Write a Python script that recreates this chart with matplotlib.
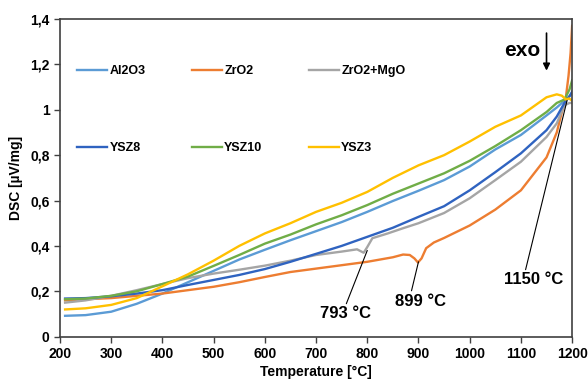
import matplotlib
matplotlib.use("Agg")
import matplotlib.pyplot as plt
from matplotlib.ticker import MultipleLocator, FuncFormatter

plt.rcParams["font.family"] = ["Liberation Sans", "DejaVu Sans"]
plt.rcParams["font.weight"] = "bold"

# temperatures [°C] and DSC signal [µV/mg]
t_base = [210, 250, 300, 350, 400, 450, 500, 550, 600, 650, 700, 750, 800,
          850, 900, 950, 1000, 1050, 1100, 1150, 1170, 1185, 1195, 1200]
al2o3 = [0.092, 0.095, 0.11, 0.145, 0.19, 0.24, 0.29, 0.34, 0.383, 0.425, 0.465, 0.505, 0.55,
         0.598, 0.643, 0.69, 0.75, 0.825, 0.889, 0.975, 1.01, 1.04, 1.06, 1.07]
ysz8 = [0.168, 0.17, 0.178, 0.19, 0.205, 0.228, 0.25, 0.272, 0.298, 0.33, 0.365, 0.40, 0.44,
        0.48, 0.528, 0.575, 0.645, 0.725, 0.808, 0.91, 0.97, 1.03, 1.06, 1.08]
ysz10 = [0.165, 0.168, 0.18, 0.20, 0.232, 0.265, 0.312, 0.36, 0.41, 0.45, 0.495, 0.535, 0.58,
         0.63, 0.675, 0.72, 0.775, 0.84, 0.91, 0.99, 1.03, 1.045, 1.09, 1.13]

t_ysz3 = [210, 250, 300, 350, 400, 450, 500, 550, 600, 650, 700, 750, 800, 850, 900,
          950, 1000, 1050, 1100, 1150, 1170, 1180, 1188, 1194, 1200]
ysz3 = [0.12, 0.125, 0.14, 0.17, 0.222, 0.275, 0.335, 0.40, 0.455, 0.50, 0.55, 0.59, 0.638, 0.70, 0.755,
        0.80, 0.86, 0.925, 0.975, 1.055, 1.068, 1.062, 1.045, 1.05, 1.04]

t_mgo = [210, 250, 300, 350, 400, 450, 500, 550, 600, 650, 700, 750, 780, 793, 800, 810,
         840, 870, 900, 950, 1000, 1050, 1100, 1150, 1170, 1185, 1195, 1200]
zro2_mgo = [0.15, 0.16, 0.18, 0.205, 0.232, 0.258, 0.278, 0.295, 0.313, 0.335, 0.36, 0.375, 0.385, 0.37, 0.395, 0.434,
            0.455, 0.478, 0.50, 0.545, 0.61, 0.69, 0.771, 0.88, 0.94, 1.02, 1.03, 1.03]

t_zro2 = [210, 250, 300, 350, 400, 450, 500, 550, 600, 650, 700, 750, 800, 850, 870, 883,
          892, 899, 906, 915, 930, 950, 1000, 1050, 1100, 1150, 1170, 1180, 1187, 1193, 1197, 1200]
zro2 = [0.16, 0.165, 0.17, 0.18, 0.19, 0.205, 0.22, 0.24, 0.263, 0.285, 0.30, 0.315, 0.33, 0.35, 0.362, 0.36,
        0.345, 0.327, 0.345, 0.39, 0.415, 0.435, 0.49, 0.56, 0.645, 0.79, 0.9, 0.99, 1.04, 1.15, 1.25, 1.37]

series = {
    "Al2O3": (t_base, al2o3, "#5B9BD5"),
    "ZrO2": (t_zro2, zro2, "#ED7D31"),
    "ZrO2+MgO": (t_mgo, zro2_mgo, "#A5A5A5"),
    "YSZ8": (t_base, ysz8, "#2F63C0"),
    "YSZ10": (t_base, ysz10, "#70AD47"),
    "YSZ3": (t_ysz3, ysz3, "#FFC000"),
}
# legend is filled column by column, so this gives rows Al2O3/ZrO2/ZrO2+MgO and YSZ8/YSZ10/YSZ3
legend_order = ["Al2O3", "YSZ8", "ZrO2", "YSZ10", "ZrO2+MgO", "YSZ3"]

fig = plt.figure(figsize=(5.88, 3.8), dpi=100)
ax = fig.add_axes([0.102, 0.114, 0.871, 0.836])

lines = {}
for name, (t, v, c) in series.items():
    lines[name], = ax.plot(t, v, color=c, lw=1.7, label=name)

ax.set_xlim(200, 1200)
ax.set_ylim(0, 1.4)
ax.xaxis.set_major_locator(MultipleLocator(100))
ax.yaxis.set_major_locator(MultipleLocator(0.2))
ax.yaxis.set_major_formatter(FuncFormatter(lambda v, _: f"{v:g}".replace(".", ",")))
ax.tick_params(direction="out", length=4, width=1, colors="#404040", labelcolor="black", labelsize=10)
for s in ax.spines.values():
    s.set_color("#404040")
    s.set_linewidth(1.2)

ax.set_xlabel("Temperature [°C]", fontsize=10, fontweight="bold", labelpad=3)
ax.set_ylabel("DSC [µV/mg]", fontsize=10, fontweight="bold", labelpad=5)

ax.legend([lines[n] for n in legend_order], legend_order,
          loc="upper left", bbox_to_anchor=(0.033, 0.855), ncol=3, frameon=False,
          fontsize=9, handlelength=2.4, handletextpad=0.2, columnspacing=3.7,
          labelspacing=5.2, borderpad=0, borderaxespad=0)

line = dict(arrowstyle="-", color="black", lw=0.8, shrinkA=0, shrinkB=0)
ax.annotate("793 °C", xy=(800, 0.38), xytext=(757, 0.10), fontsize=12, fontweight="bold",
            ha="center", va="center", arrowprops=dict(line, relpos=(0.5, 1)))
ax.annotate("899 °C", xy=(900, 0.33), xytext=(903, 0.157), fontsize=12, fontweight="bold",
            ha="center", va="center", arrowprops=dict(line, relpos=(0.32, 1)))
ax.annotate("1150 °C", xy=(1190, 1.04), xytext=(1124, 0.25), fontsize=12, fontweight="bold",
            ha="center", va="center", arrowprops=dict(line, relpos=(0.36, 1)))

ax.text(1102, 1.26, "exo", fontsize=15, fontweight="bold", ha="center", va="center")
ax.annotate("", xy=(1150, 1.16), xytext=(1150, 1.35),
            arrowprops=dict(arrowstyle="-|>", color="black", lw=1.2, mutation_scale=10))

fig.savefig("out.png", dpi=100)
